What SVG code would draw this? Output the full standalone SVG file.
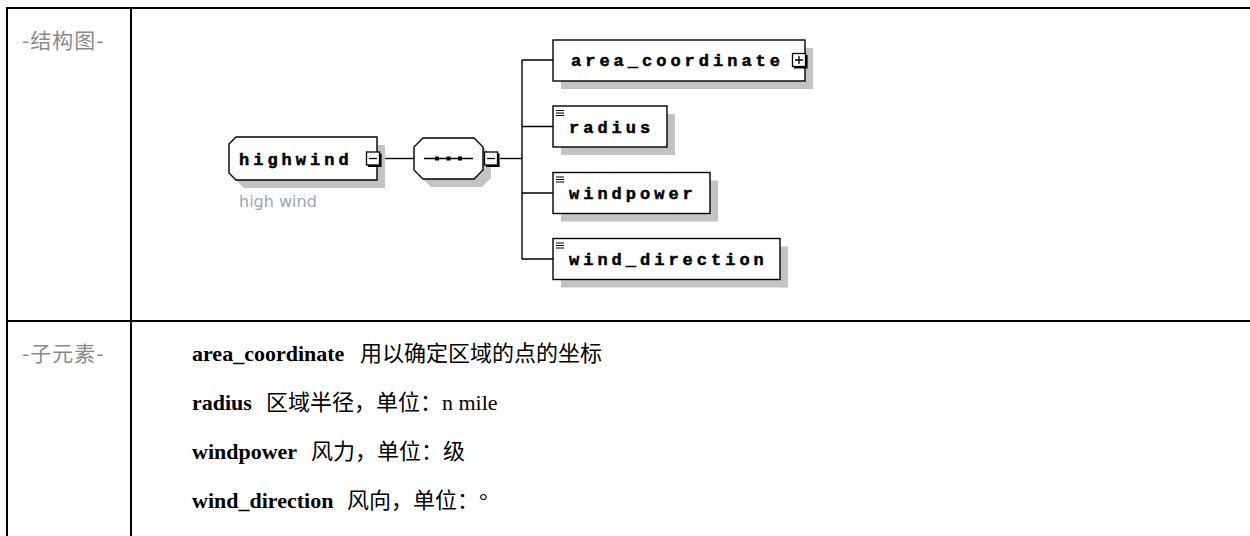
<svg xmlns="http://www.w3.org/2000/svg" xmlns:xlink="http://www.w3.org/1999/xlink" width="1250" height="536" viewBox="0 0 1250 536">
  <style>
    .frame{stroke:#000;stroke-width:2;fill:none}
    .side{font-family:"Noto Sans CJK SC",sans-serif;font-size:21px;fill:#8a8a8a;letter-spacing:1px}
    .node{fill:#fff;stroke:#000;stroke-width:1.4}
    .shadow{fill:#c3c3c3}
    .name{font-family:"Liberation Mono",monospace;font-weight:bold;font-size:17px;letter-spacing:4px;fill:#000;stroke:#000;stroke-width:0.5}
    .note{font-family:"DejaVu Sans",sans-serif;font-size:16px;fill:#98a6ba}
    .conn{stroke:#000;stroke-width:1.4;fill:none}
    .row{font-family:"Liberation Serif","Noto Sans CJK SC",serif;font-size:22px;fill:#000}
    .k{font-weight:bold}
  </style>
  <defs>
    <!-- collapse / expand toggles -->
    <g id="minus">
      <rect x="0.5" y="0.5" width="13" height="13" fill="#fff" stroke="#000" stroke-width="1.3"/>
      <path d="M14.5,2 V14.5 H2" stroke="#000" stroke-width="2.2" fill="none"/>
      <path d="M3,7 H11" stroke="#000" stroke-width="1.3"/>
    </g>
    <g id="plus">
      <rect x="0.5" y="0.5" width="13" height="13" fill="#fff" stroke="#000" stroke-width="1.3"/>
      <path d="M14.5,2 V14.5 H2" stroke="#000" stroke-width="2.2" fill="none"/>
      <path d="M3,7 H11 M7,3 V11" stroke="#000" stroke-width="1.3"/>
    </g>
    <!-- documentation marker -->
    <g id="doc">
      <path d="M0,0.5 H8 M0,3 H8 M0,5.5 H8" stroke="#000" stroke-width="1.1"/>
    </g>
  </defs>

  <rect width="1250" height="536" fill="#fff"/>

  <!-- table frame -->
  <g id="table">
    <path class="frame" d="M7,8 H1250 M7,7 V536 M131,8 V536 M7,321 H1250"/>
    <text class="side" x="22" y="48">-结构图-</text>
    <text class="side" x="22" y="361">-子元素-</text>
  </g>

  <!-- connectors -->
  <g id="connectors">
    <path class="conn" d="M382,158.5 H414"/>
    <path class="conn" d="M500,158.5 H522"/>
    <path class="conn" d="M522,60 V259"/>
    <path class="conn" d="M522,60 H553 M522,126.5 H553 M522,193 H553 M522,259 H553"/>
  </g>

  <g id="node-highwind">
    <path class="shadow" d="M244,145 H385 V188 H244 L237,181 V152 Z"/>
    <path class="node" d="M236,137 H377 V180 H236 L229,173 V144 Z"/>
    <text class="name" x="239" y="164.5">highwind</text>
    <use xlink:href="#minus" x="366" y="151.5"/>
    <text class="note" x="239" y="207">high wind</text>
  </g>

  <g id="node-sequence">
    <path class="shadow" d="M431,146 H482 L491,155 V178 L482,187 H431 L422,178 V155 Z"/>
    <path class="node" d="M423,138 H474 L483,147 V170 L474,179 H423 L414,170 V147 Z"/>
    <path d="M424,158.5 H473" stroke="#000" stroke-width="1.4"/>
    <rect x="435" y="156.5" width="4" height="4" fill="#000"/>
    <rect x="446.5" y="156.5" width="4" height="4" fill="#000"/>
    <rect x="458" y="156.5" width="4" height="4" fill="#000"/>
    <use xlink:href="#minus" x="484" y="151.5"/>
  </g>

  <g id="node-area_coordinate">
    <rect class="shadow" x="561" y="48" width="252" height="41"/>
    <rect class="node" x="553" y="40" width="252" height="41"/>
    <text class="name" x="571" y="66">area_coordinate</text>
    <use xlink:href="#plus" x="792" y="53"/>
  </g>

  <g id="node-radius">
    <rect class="shadow" x="561" y="114" width="114" height="41"/>
    <rect class="node" x="553" y="106" width="114" height="41"/>
    <use xlink:href="#doc" x="556" y="110"/>
    <text class="name" x="569" y="132.5">radius</text>
  </g>

  <g id="node-windpower">
    <rect class="shadow" x="561" y="180.5" width="157" height="41"/>
    <rect class="node" x="553" y="172.5" width="157" height="41"/>
    <use xlink:href="#doc" x="556" y="176.5"/>
    <text class="name" x="569" y="199">windpower</text>
  </g>

  <g id="node-wind_direction">
    <rect class="shadow" x="561" y="246.5" width="227" height="41"/>
    <rect class="node" x="553" y="238.5" width="227" height="41"/>
    <use xlink:href="#doc" x="556" y="242.5"/>
    <text class="name" x="569" y="265">wind_direction</text>
  </g>

  <!-- child element descriptions -->
  <g id="descriptions">
    <text class="row" y="361"><tspan class="k" x="192">area_coordinate</tspan><tspan x="360">用以确定区域的点的坐标</tspan></text>
    <text class="row" y="410"><tspan class="k" x="192">radius</tspan><tspan x="266">区域半径，单位：n mile</tspan></text>
    <text class="row" y="459"><tspan class="k" x="192">windpower</tspan><tspan x="311">风力，单位：级</tspan></text>
    <text class="row" y="508"><tspan class="k" x="192">wind_direction</tspan><tspan x="347">风向，单位：°</tspan></text>
  </g>
</svg>
